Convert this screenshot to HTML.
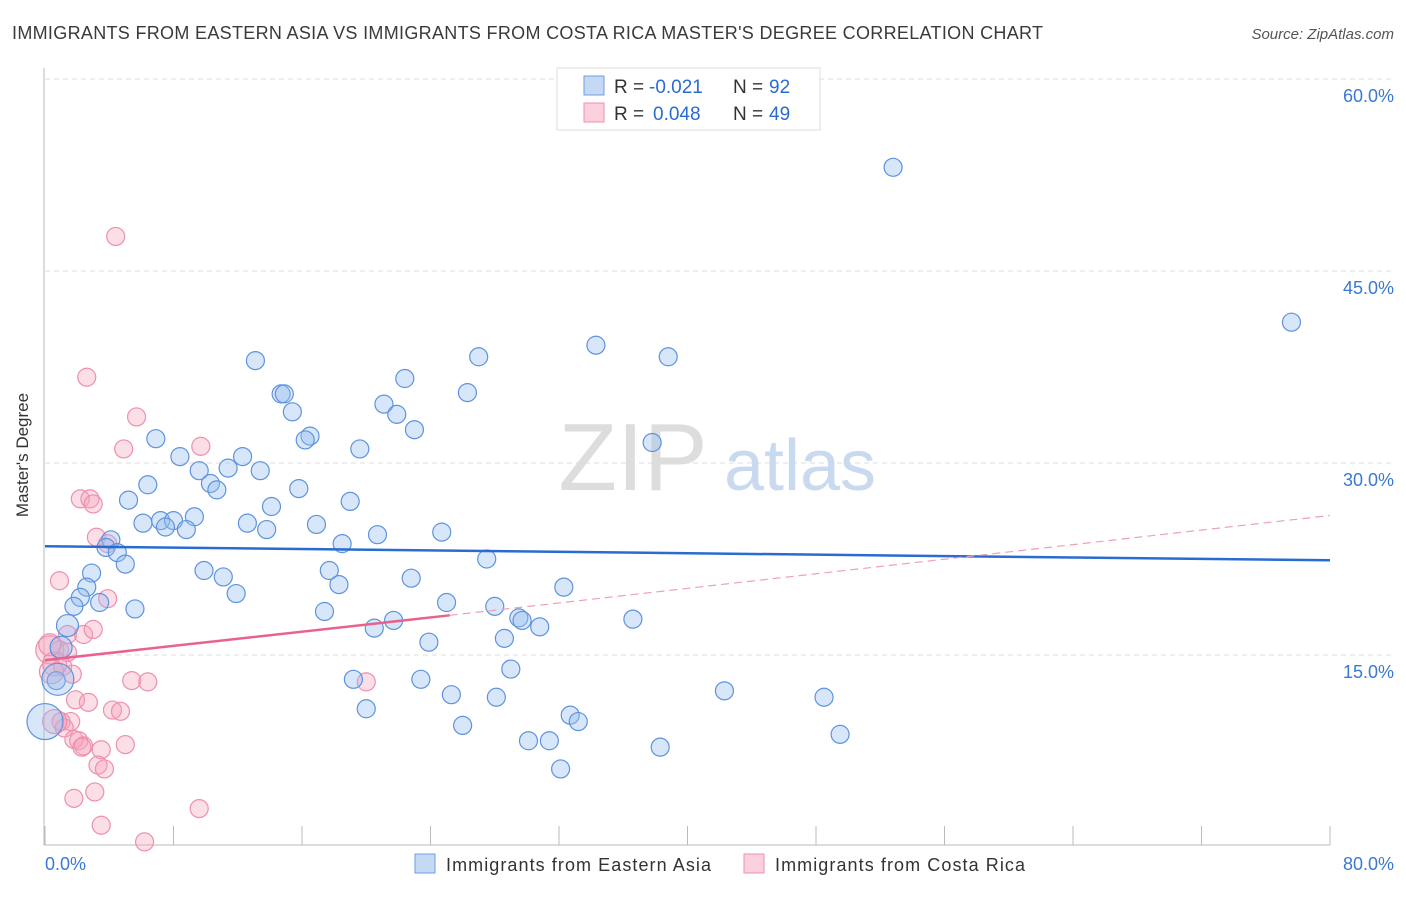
<!DOCTYPE html>
<html><head><meta charset="utf-8"><style>
body{margin:0;background:#fff;font-family:"Liberation Sans",sans-serif}
svg text{font-family:"Liberation Sans",sans-serif}
</style></head><body>
<svg id="chart" width="1406" height="892" viewBox="0 0 1406 892" xmlns="http://www.w3.org/2000/svg">
<text x="12" y="39" font-size="18" fill="#3a3a3a" textLength="1031">IMMIGRANTS FROM EASTERN ASIA VS IMMIGRANTS FROM COSTA RICA MASTER'S DEGREE CORRELATION CHART</text>
<text x="1394" y="39" font-size="15" fill="#555" text-anchor="end" font-style="italic">Source: ZipAtlas.com</text>
<g id="grid"></g>
<text x="633" y="490" font-size="96" fill="#ddd" font-family="Liberation Serif" text-anchor="middle">ZIP</text>
<text x="800" y="490" font-size="72" fill="#c9daf0" text-anchor="middle">atlas</text>
<g id="axes"></g>
<g id="pts"></g>
<g id="trends"></g>
<text x="28" y="455" font-size="17" fill="#333" text-anchor="middle" transform="rotate(-90 28 455)">Master's Degree</text>
<text x="45" y="870" font-size="18" fill="#3a78d4">0.0%</text>
<text x="1394" y="870" font-size="18" fill="#3a78d4" text-anchor="end">80.0%</text>
<g>
<rect x="557" y="68" width="263" height="62" fill="#fff" stroke="#ddd"/>
<rect x="584" y="76" width="20" height="19" fill="#c5d9f5" stroke="#6f9ee0"/>
<rect x="584" y="103" width="20" height="19" fill="#fbcfdc" stroke="#ee8fab"/>
<text x="614" y="93" font-size="19" fill="#333">R =</text>
<text x="649" y="93" font-size="19" fill="#2a6bd1">-0.021</text>
<text x="733" y="93" font-size="19" fill="#333">N =</text>
<text x="769" y="93" font-size="19" fill="#2a6bd1">92</text>
<text x="614" y="120" font-size="19" fill="#333">R =</text>
<text x="653" y="120" font-size="19" fill="#2a6bd1">0.048</text>
<text x="733" y="120" font-size="19" fill="#333">N =</text>
<text x="769" y="120" font-size="19" fill="#2a6bd1">49</text>
</g>
<g>
<rect x="415" y="854" width="20" height="19" fill="#c5d9f5" stroke="#6f9ee0"/>
<text x="446" y="871" font-size="18" fill="#333" textLength="265">Immigrants from Eastern Asia</text>
<rect x="744" y="854" width="20" height="19" fill="#fbcfdc" stroke="#ee8fab"/>
<text x="775" y="871" font-size="18" fill="#333" textLength="250">Immigrants from Costa Rica</text>
</g>
</svg>
<script>
const yTicks=[15,30,45,60];
const yTickLabels=["15.0%","30.0%","45.0%","60.0%"];
const xTicks=[0,8,16,24,32,40,48,56,64,72,80];
const blueX=[52.8,77.6,13.1,27.0,34.3,38.8,22.4,14.7,14.9,26.3,15.4,21.1,21.9,23.0,16.5,16.2,6.9,19.6,37.8,8.4,12.3,11.4,13.4,9.6,6.4,10.3,10.7,15.8,5.2,19.0,14.1,6.1,7.2,8.0,9.3,8.8,12.6,16.9,4.1,7.5,13.8,20.7,24.7,3.8,4.5,18.5,27.5,5.0,2.9,9.9,11.1,17.7,2.6,22.8,18.3,32.3,11.9,2.2,1.8,3.4,5.6,25.0,28.0,17.4,29.5,29.7,21.7,36.6,30.8,1.4,20.5,28.6,23.9,1.0,29.0,0.7,19.2,23.4,25.3,42.3,48.5,28.1,20.0,32.7,33.2,26.0,30.1,31.4,49.5,38.3,32.1,0.0,0.8];
const blueY=[53.1,41.0,38.0,38.3,39.2,38.3,36.6,35.4,35.4,35.5,34.0,34.6,33.8,32.6,32.1,31.8,31.9,31.1,31.6,30.5,30.5,29.6,29.4,29.4,28.3,28.4,27.9,28.0,27.1,27.0,26.6,25.3,25.5,25.5,25.8,24.8,25.3,25.2,24.0,25.0,24.8,24.4,24.6,23.4,23.0,23.7,22.5,22.1,21.4,21.6,21.1,21.6,20.3,21.0,20.5,20.3,19.8,19.5,18.8,19.1,18.6,19.1,18.8,18.4,17.9,17.7,17.7,17.8,17.2,17.3,17.1,16.3,16.0,15.6,13.9,13.0,13.1,13.1,11.9,12.2,11.7,11.7,10.8,10.3,9.8,9.5,8.3,8.3,8.8,7.8,6.1,9.8,13.1];
const blueR=[9,9,9,9,9,9,9,9,9,9,9,9,9,9,9,9,9,9,9,9,9,9,9,9,9,9,9,9,9,9,9,9,9,9,9,9,9,9,9,9,9,9,9,9,9,9,9,9,9,9,9,9,9,9,9,9,9,9,9,9,9,9,9,9,9,9,9,9,9,11,9,9,9,11,9,9,9,9,9,9,9,9,9,9,9,9,9,9,9,9,9,18,16];
const pinkX=[4.4,2.6,5.7,4.9,9.7,2.2,2.8,3.0,3.2,3.9,0.9,3.9,1.4,2.4,3.0,0.3,0.9,1.4,0.6,1.1,1.7,0.4,5.4,6.4,20.0,1.9,2.7,4.2,4.7,1.0,1.6,1.2,1.8,2.1,2.4,3.5,5.0,3.3,3.7,2.3,1.8,3.1,9.6,3.5,6.2,0.6,0.3];
const pinkY=[47.7,36.7,33.6,31.1,31.3,27.2,27.2,26.8,24.2,23.7,20.8,19.4,16.6,16.6,17.0,15.4,15.4,15.2,14.3,14.1,13.5,13.7,13.0,12.9,12.9,11.5,11.3,10.7,10.6,9.8,9.8,9.3,8.4,8.3,7.9,7.6,8.0,6.4,6.1,7.8,3.8,4.3,3.0,1.7,0.4,9.8,15.8];
const pinkR=[9,9,9,9,9,9,9,9,9,9,9,9,9,9,9,14,9,9,12,9,9,12,9,9,9,9,9,9,9,9,9,9,9,9,9,9,9,9,9,9,9,9,9,9,9,12,11];
const blueTrend=[23.5,22.4];
const pinkTrend=[14.6,18.1,25.9];
const X=v=>45+v/80*1285, Y=v=>847-v/15*192;
const NS="http://www.w3.org/2000/svg";
function mk(t,a,p){const e=document.createElementNS(NS,t);for(const k in a)e.setAttribute(k,a[k]);p.appendChild(e);return e;}
const grid=document.getElementById('grid'),axes=document.getElementById('axes');
yTicks.forEach((v,i)=>{
 const l=mk('line',{x1:45,x2:1394,y1:Y(v),y2:Y(v),stroke:'#ddd','stroke-dasharray':'5 4'},grid);
 
 
 const t=mk('text',{x:1394,y:Y(v)+23,'font-size':18,fill:'#3a78d4','text-anchor':'end'},grid);
 t.textContent=yTickLabels[i];
 
 
});
mk('line',{x1:44,x2:44,y1:68,y2:845,stroke:'#bbb'},axes);
mk('line',{x1:44,x2:1330,y1:845,y2:845,stroke:'#bbb'},axes);
xTicks.forEach(v=>{
 const l=mk('line',{x1:X(v),x2:X(v),y1:826,y2:845,stroke:'#bbb'},axes);
 
 
});
const pts=document.getElementById('pts');
pinkX.forEach((v,i)=>{
 const c=mk('circle',{cx:X(v),cy:Y(pinkY[i]),r:pinkR[i],fill:'rgba(245,160,185,0.35)',stroke:'#ee8fab','stroke-width':1.2},pts);
 
 
});
blueX.forEach((v,i)=>{
 const c=mk('circle',{cx:X(v),cy:Y(blueY[i]),r:blueR[i],fill:'rgba(150,190,240,0.38)',stroke:'#5d93de','stroke-width':1.2},pts);
 
 
});
const tr=document.getElementById('trends');
const b=mk('line',{x1:X(0),y1:Y(blueTrend[0]),x2:X(80),y2:Y(blueTrend[1]),stroke:'#2a6bd1','stroke-width':2.5},tr);


const p1=mk('line',{x1:X(0),y1:Y(pinkTrend[0]),x2:X(25.2),y2:Y(pinkTrend[1]),stroke:'#e8628d','stroke-width':2.5},tr);


const p2=mk('line',{x1:X(25.2),y1:Y(pinkTrend[1]),x2:X(80),y2:Y(pinkTrend[2]),stroke:'#eea0b8','stroke-width':1.2,'stroke-dasharray':'8 5'},tr);


</script>
</body></html>
